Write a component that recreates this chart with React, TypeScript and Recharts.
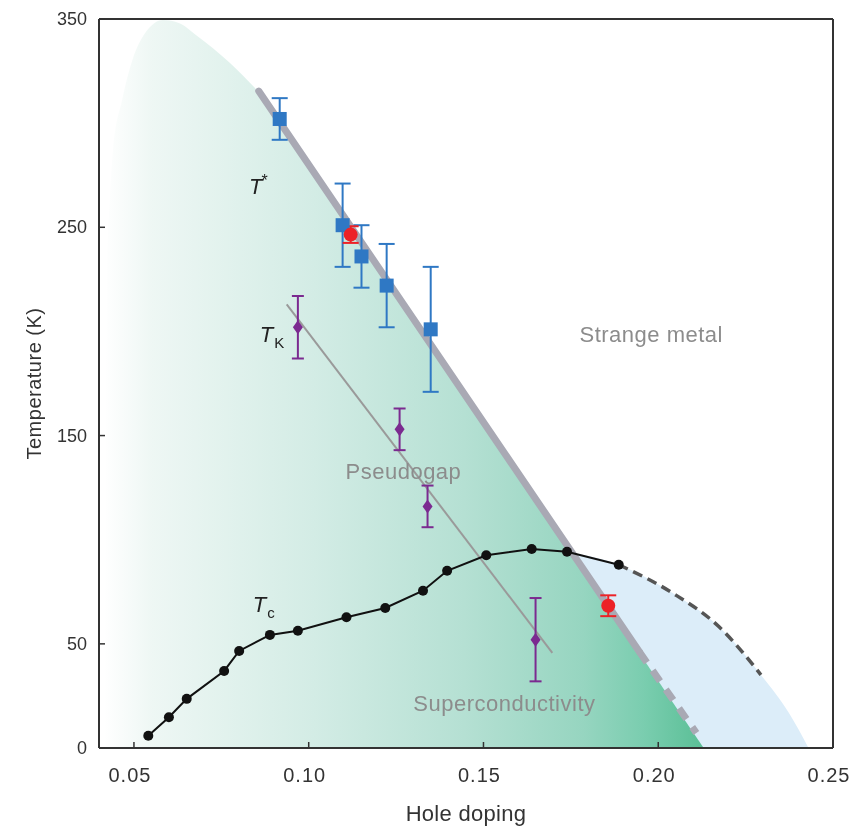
import React from "react";
import {
  Area,
  ComposedChart,
  ErrorBar,
  Line,
  ReferenceDot,
  ReferenceLine,
  Scatter,
  XAxis,
  YAxis,
} from "recharts";

// T* (blue squares)
const tStarDoping = [0.0917, 0.1097, 0.1151, 0.1223, 0.1349];
const tStarTemp = [302, 251, 236, 222, 201];
const tStarErr = [10, 20, 15, 20, 30];

// T_K (purple diamonds)
const tKDoping = [0.0969, 0.126, 0.134, 0.1649];
const tKTemp = [202, 153, 116, 52];
const tKErr = [15, 10, 10, 20];

// red points
const redDoping = [0.112, 0.1857];
const redTemp = [246.5, 68.3];
const redErr = [4, 5];

// Tc dome
const tcDoping = [0.0541, 0.06, 0.0651, 0.0758, 0.0801, 0.0889, 0.0969, 0.1108, 0.1219, 0.1327, 0.1396, 0.1508, 0.1638, 0.1739, 0.1887];
const tcTemp = [5.9, 14.8, 23.6, 37, 46.6, 54.3, 56.3, 62.8, 67.2, 75.5, 85.1, 92.5, 95.5, 94.2, 88];
const tcDashDoping = [0.1887, 0.204, 0.2174, 0.2294];
const tcDashTemp = [88, 74.5, 58.2, 35.1];

// guide lines
const tStarLineDoping = [0.0857, 0.1946];
const tStarLineTemp = [315.4, 46.2];
const tStarDashDoping = [0.1946, 0.2109];
const tStarDashTemp = [46.2, 7.2];
const tKLineDoping = [0.0937, 0.1697];
const tKLineTemp = [213, 45.7];

// shaded regions
const domeDoping = [0.0415, 0.0419, 0.0423, 0.0431, 0.044, 0.0466, 0.0497, 0.0531, 0.0558, 0.0583, 0.063, 0.068, 0.0774, 0.0857];
const domeTemp = [0, 120, 231, 263, 287, 311, 331, 343, 348, 349.5, 348, 342, 329, 315];
const wedgeDoping = [0.085, 0.213];
const wedgeTemp = [317, 0];
const scDoping = [0.1739, 0.1887, 0.204, 0.2174, 0.2294, 0.2374, 0.243];
const scTemp = [94.2, 88, 74.5, 58.2, 35.1, 16.8, 0];

const xTicks = [0.05, 0.1, 0.15, 0.2, 0.25];
const yTicks = [0, 50, 150, 250, 350];

const pts = (xs: number[], ys: number[], errs?: number[]) =>
  xs.map((x, i) => ({ x, y: ys[i], err: errs ? errs[i] : 0 }));

const FONT = "'Liberation Sans', Arial, sans-serif";
const AXIS = "#333";
const LABEL = "#8c8c8c";

const XTick = ({ x, y, payload }: any) => (
  <g>
    <line x1={x} x2={x} y1={y} y2={y - 6} stroke={AXIS} strokeWidth={1.5} />
    <text x={x - 4} y={y + 34} textAnchor="middle" fontSize={20} letterSpacing={1} fill={AXIS} fontFamily={FONT}>
      {payload.value.toFixed(2)}
    </text>
  </g>
);

const YTick = ({ x, y, payload }: any) => (
  <g>
    <line x1={x} x2={x + 6} y1={y} y2={y} stroke={AXIS} strokeWidth={1.5} />
    <text x={x - 12} y={y + 6} textAnchor="end" fontSize={18} fill={AXIS} fontFamily={FONT}>
      {payload.value}
    </text>
  </g>
);

const plainText = (value: string) => (p: any) => (
  <text x={p.cx} y={p.cy} textAnchor="middle" dominantBaseline="central" fontSize={22} letterSpacing={0.5} fill={LABEL} fontFamily={FONT}>
    {value}
  </text>
);

const symText = (sub: string, sup: boolean) => (p: any) => (
  <text x={p.cx} y={p.cy} fontSize={22} fill="#222" fontFamily={FONT} fontStyle="italic">
    T
    <tspan fontStyle="normal" fontSize={sup ? 16 : 15} dx={sup ? -1 : 1} dy={sup ? -8 : 6}>
      {sub}
    </tspan>
  </text>
);

export default function App() {
  return (
    <div style={{ position: "fixed", left: 0, top: 0 }}>
      <ComposedChart
        width={865}
        height={828}
        margin={{ top: 19, right: 32, bottom: 2, left: 29 }}
        style={{ fontFamily: FONT }}
      >
        <defs>
          <linearGradient id="pgGrad" gradientUnits="userSpaceOnUse" x1="104" y1="0" x2="704" y2="0">
            <stop offset="0" stopColor="#ffffff" />
            <stop offset="0.08" stopColor="#eef7f4" />
            <stop offset="0.35" stopColor="#d3ece5" />
            <stop offset="0.6" stopColor="#b5e0d3" />
            <stop offset="0.8" stopColor="#96d5c0" />
            <stop offset="0.9" stopColor="#7acdaf" />
            <stop offset="1" stopColor="#5abf96" />
          </linearGradient>
        </defs>
        <XAxis
          type="number"
          dataKey="x"
          domain={[0.04, 0.25]}
          ticks={xTicks}
          allowDataOverflow
          height={78}
          tickSize={0}
          tickMargin={0}
          tick={<XTick />}
          axisLine={{ stroke: AXIS, strokeWidth: 2 }}
          label={{ value: "Hole doping", position: "insideBottom", offset: 5, fontSize: 22, letterSpacing: 0.3, fill: AXIS }}
        />
        <YAxis
          type="number"
          dataKey="y"
          domain={[0, 350]}
          ticks={yTicks}
          allowDataOverflow
          width={70}
          tickSize={0}
          tickMargin={0}
          tick={<YTick />}
          axisLine={{ stroke: AXIS, strokeWidth: 2 }}
          label={{ value: "Temperature (K)", angle: -90, position: "insideLeft", offset: 5, fontSize: 20, letterSpacing: 0.5, fill: AXIS, style: { textAnchor: "middle" } }}
        />
        <ReferenceLine y={350} stroke={AXIS} strokeWidth={2} />
        <ReferenceLine x={0.25} stroke={AXIS} strokeWidth={2} />

        <Area data={pts(scDoping, scTemp)} dataKey="y" type="monotone" stroke="none" fill="#dcedf9" fillOpacity={1} isAnimationActive={false} />
        <Area data={pts(domeDoping, domeTemp)} dataKey="y" type="monotone" stroke="none" fill="url(#pgGrad)" fillOpacity={1} isAnimationActive={false} />
        <Area data={pts(wedgeDoping, wedgeTemp)} dataKey="y" type="linear" stroke="none" fill="url(#pgGrad)" fillOpacity={1} isAnimationActive={false} />

        <Line data={pts(tStarLineDoping, tStarLineTemp)} dataKey="y" stroke="#a9a9b4" strokeWidth={7} strokeLinecap="round" dot={false} isAnimationActive={false} />
        <Line data={pts(tStarDashDoping, tStarDashTemp)} dataKey="y" stroke="#a9a9b4" strokeWidth={7} strokeDasharray="13 10" dot={false} isAnimationActive={false} />
        <Line data={pts(tKLineDoping, tKLineTemp)} dataKey="y" stroke="#9a9a9a" strokeWidth={2} dot={false} isAnimationActive={false} />
        <Line data={pts(tcDashDoping, tcDashTemp)} dataKey="y" type="monotone" stroke="#555" strokeWidth={3.5} strokeDasharray="10 6" dot={false} isAnimationActive={false} />
        <Line data={pts(tcDoping, tcTemp)} dataKey="y" stroke="#111" strokeWidth={2} dot={{ r: 5, fill: "#111", stroke: "none" }} isAnimationActive={false} />

        <Scatter
          data={pts(tStarDoping, tStarTemp, tStarErr)}
          dataKey="y"
          isAnimationActive={false}
          shape={(p: any) => <rect x={p.cx - 7} y={p.cy - 7} width={14} height={14} fill="#2f78c4" />}
        >
          <ErrorBar dataKey="err" direction="y" width={8} stroke="#2f78c4" strokeWidth={2} />
        </Scatter>
        <Scatter
          data={pts(tKDoping, tKTemp, tKErr)}
          dataKey="y"
          isAnimationActive={false}
          shape={(p: any) => (
            <polygon points={`${p.cx},${p.cy - 7} ${p.cx + 5},${p.cy} ${p.cx},${p.cy + 7} ${p.cx - 5},${p.cy}`} fill="#7b2a90" />
          )}
        >
          <ErrorBar dataKey="err" direction="y" width={6} stroke="#7b2a90" strokeWidth={2} />
        </Scatter>
        <Scatter
          data={pts(redDoping, redTemp, redErr)}
          dataKey="y"
          isAnimationActive={false}
          shape={(p: any) => <circle cx={p.cx} cy={p.cy} r={7} fill="#ec2227" />}
        >
          <ErrorBar dataKey="err" direction="y" width={8} stroke="#ec2227" strokeWidth={2} />
        </Scatter>

        <ReferenceDot x={0.0829} y={265.9} r={0} shape={symText("*", true)} />
        <ReferenceDot x={0.086} y={194.7} r={0} shape={symText("K", false)} />
        <ReferenceDot x={0.084} y={65.4} r={0} shape={symText("c", false)} />
        <ReferenceDot x={0.198} y={198.6} r={0} shape={plainText("Strange metal")} />
        <ReferenceDot x={0.1271} y={132.7} r={0} shape={plainText("Pseudogap")} />
        <ReferenceDot x={0.156} y={21.6} r={0} shape={plainText("Superconductivity")} />
      </ComposedChart>
    </div>
  );
}
